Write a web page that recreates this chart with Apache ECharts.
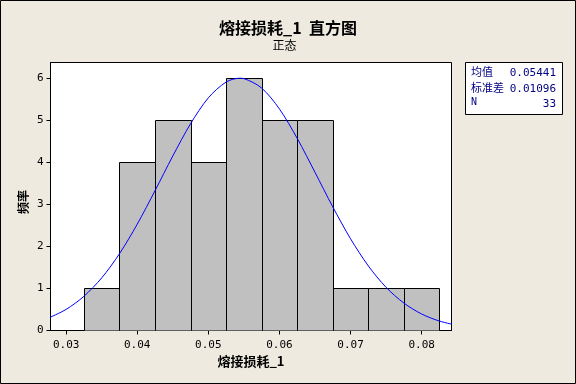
<!DOCTYPE html>
<html>
<head>
<meta charset="utf-8">
<script src="https://cdn.jsdelivr.net/npm/echarts@6/dist/echarts.min.js"></script>
<style>html,body{margin:0;padding:0;background:#EEEAE0;}#c{width:576px;height:384px;}</style>
</head>
<body>
<div id="c"></div>
<script>
// Histogram bins (centers) and counts
const binCenters = [0.035, 0.040, 0.045, 0.050, 0.055, 0.060, 0.065, 0.070, 0.075, 0.080];
const counts = [1, 4, 5, 4, 6, 5, 5, 1, 1, 1];
const binWidth = 0.005;
// Fitted normal curve
const curveX = [0.0275, 0.0300, 0.0325, 0.0350, 0.0375, 0.0400, 0.0425, 0.0450, 0.0475, 0.0500, 0.0525, 0.05441, 0.0550, 0.0575, 0.0600, 0.0625, 0.0650, 0.0675, 0.0700, 0.0725, 0.0750, 0.0775, 0.0800, 0.0825, 0.0850];
const curveY = [0.295, 0.503, 0.814, 1.252, 1.827, 2.531, 3.328, 4.154, 4.923, 5.539, 5.915, 6.006, 5.997, 5.772, 5.274, 4.574, 3.766, 2.943, 2.184, 1.538, 1.028, 0.653, 0.393, 0.225, 0.122];
// Tick labels
const xTicks = [0.03, 0.04, 0.05, 0.06, 0.07, 0.08];
const yTicks = [0, 1, 2, 3, 4, 5, 6];
// Stats box
const statLabels = ['均值', '标准差', 'N'];
const statValues = ['0.05441', '0.01096', '33'];

const chart = echarts.init(document.getElementById('c'), null, {renderer: 'canvas'});
const mono = 'DejaVu Sans Mono';
const cjk = '"Noto Sans CJK SC", sans-serif';

const statTexts = [];
const rowY = [73.5, 89, 104.5];
statLabels.forEach((l, i) => {
  statTexts.push({type: 'text', left: 471, top: rowY[i] - 7, z: 20,
    style: {text: l, font: (i === 2 ? '10px ' + mono : '11px ' + cjk), fill: '#000080', textVerticalAlign: 'top'}});
  statTexts.push({type: 'text', x: 556, y: rowY[i], z: 20,
    style: {text: statValues[i], font: '11px ' + mono, fill: '#000080', textAlign: 'right', textVerticalAlign: 'middle'}});
});

chart.setOption({
  backgroundColor: '#EEEAE0',
  animation: false,
  grid: {left: 50.5, top: 62.5, width: 401, height: 268, show: true, backgroundColor: '#ffffff', borderColor: '#000', borderWidth: 1, containLabel: false},
  xAxis: {
    type: 'value', min: 0.0278, max: 0.0842,
    axisLine: {show: true, lineStyle: {color: '#000'}},
    axisTick: {show: true, length: 4, lineStyle: {color: '#000'}, customValues: xTicks},
    axisLabel: {customValues: xTicks, formatter: v => v.toFixed(2), color: '#000', fontFamily: mono, fontSize: 11, margin: 9},
    splitLine: {show: false}
  },
  yAxis: {
    type: 'value', min: 0, max: 6.38,
    axisLine: {show: true, lineStyle: {color: '#000'}},
    axisTick: {show: true, length: 4, lineStyle: {color: '#000'}, customValues: yTicks},
    axisLabel: {customValues: yTicks, color: '#000', fontFamily: mono, fontSize: 11, margin: 7},
    splitLine: {show: false}
  },
  graphic: [
    {type: 'rect', shape: {x: 0.5, y: 0.5, width: 575, height: 383}, style: {fill: 'none', stroke: '#000', lineWidth: 1}, z: 30},
    {type: 'text', x: 288, y: 28, style: {text: '熔接损耗_1  直方图', font: 'bold 16px ' + cjk, fill: '#000', textAlign: 'center', textVerticalAlign: 'middle'}},
    {type: 'text', x: 284.5, y: 45.5, style: {text: '正态', font: '12px ' + cjk, fill: '#000', textAlign: 'center', textVerticalAlign: 'middle'}},
    {type: 'text', x: 251, y: 361, style: {text: '熔接损耗_1', font: 'bold 13px ' + cjk, fill: '#000', textAlign: 'center', textVerticalAlign: 'middle'}},
    {type: 'text', x: 23.5, y: 202, rotation: Math.PI / 2, style: {text: '频率', font: 'bold 12px ' + cjk, fill: '#000', textAlign: 'center', textVerticalAlign: 'middle'}},
    {type: 'rect', shape: {x: 465.5, y: 62.5, width: 97, height: 52}, style: {fill: '#ffffff', stroke: '#000', lineWidth: 1}, z: 10}
  ].concat(statTexts),
  series: [
    {
      type: 'custom',
      data: binCenters.map((c, i) => [c, counts[i]]),
      encode: {x: 0, y: 1},
      clip: true,
      renderItem: function (params, api) {
        const c = api.value(0), n = api.value(1);
        const p0 = api.coord([c - binWidth / 2, n]);
        const p1 = api.coord([c + binWidth / 2, 0]);
        return {type: 'rect', shape: {x: Math.round(p0[0]) + 0.5, y: Math.round(p0[1]) + 0.5, width: Math.round(p1[0]) - Math.round(p0[0]), height: Math.round(p1[1]) - Math.round(p0[1])},
          style: {fill: '#C0C0C0', stroke: '#000', lineWidth: 1}};
      },
      z: 2
    },
    {
      type: 'line',
      data: curveX.map((x, i) => [x, curveY[i]]),
      smooth: 0.3, showSymbol: false, clip: true,
      lineStyle: {color: '#0000FF', width: 1},
      z: 3
    }
  ]
});
</script>
</body>
</html>
